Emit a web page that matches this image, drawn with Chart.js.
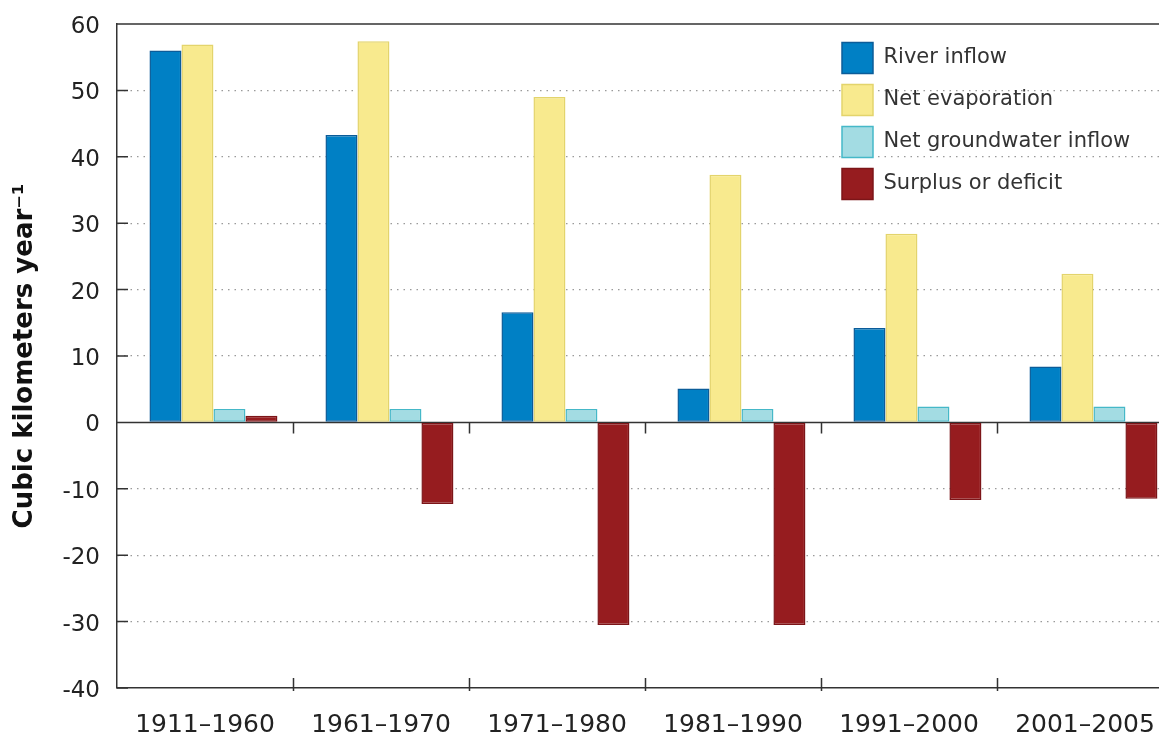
<!DOCTYPE html>
<html>
<head>
<meta charset="utf-8">
<script src="https://cdn.jsdelivr.net/npm/chart.js@4/dist/chart.umd.min.js"></script>
<style>
  html, body { margin: 0; padding: 0; background: #fff; overflow: hidden; }
  #wrap { width: 1180px; height: 736px; position: relative; }
</style>
</head>
<body>
<div id="wrap"><canvas id="myChart"></canvas></div>
<script>
const periods = ["1911–1960", "1961–1970", "1971–1980", "1981–1990", "1991–2000", "2001–2005"];
const riverInflow = [56.0, 43.3, 16.6, 5.1, 14.2, 8.4];
const netEvaporation = [56.9, 57.4, 49.0, 37.3, 28.4, 22.4];
const groundwaterInflow = [2.0, 2.0, 2.0, 2.0, 2.4, 2.4];
const surplusDeficit = [1.0, -12.3, -30.5, -30.5, -11.7, -11.5];
const yTicks = [60, 50, 40, 30, 20, 10, 0, -10, -20, -30, -40];

const Labels = ["River inflow", "Net evaporation", "Net groundwater inflow", "Surplus or deficit"];
const series = [riverInflow, netEvaporation, groundwaterInflow, surplusDeficit];
const fills = ["#0080c5", "#f8ea8e", "#a3dce3", "#961c1f"];
const borders = ["#0b5c99", "#e3d46c", "#45b8c8", "#7c1518"];

// bars sit a little right of the category centre in the original
const shift = 0.048;

Chart.defaults.font.family = "'DejaVu Sans', sans-serif";
Chart.defaults.color = "#222";

const frame = {
  id: "frame",
  afterLayout(chart) {
    const a = chart.chartArea;
    const lg = chart.legend;
    const w = lg.width, h = lg.height;
    lg.left = a.right - 342;
    lg.top = a.top + 7.5;
    lg.right = lg.left + w;
    lg.bottom = lg.top + h;
  },
  beforeDatasetsDraw(chart) {
    const { ctx, chartArea: a, scales } = chart;
    const x = scales.x, y = scales.y;
    const y0 = y.getPixelForValue(0);
    ctx.save();
    ctx.strokeStyle = "#333";
    ctx.lineWidth = 1.5;
    ctx.beginPath();
    ctx.moveTo(a.left, a.top);
    ctx.lineTo(a.right, a.top);
    ctx.moveTo(a.left, y0);
    ctx.lineTo(a.right, y0);
    yTicks.forEach((v) => {
      const py = y.getPixelForValue(v);
      ctx.moveTo(a.left, py);
      ctx.lineTo(a.left + 11, py);
    });
    for (let i = 1; i < periods.length; i++) {
      const px = Math.round((x.getPixelForTick(i - 1) + x.getPixelForTick(i)) / 2) + 0.5;
      ctx.moveTo(px, y0);
      ctx.lineTo(px, y0 + 11);
      ctx.moveTo(px, a.bottom + 3);
      ctx.lineTo(px, a.bottom - 10);
    }
    ctx.stroke();
    ctx.restore();
  },
};

new Chart(document.getElementById("myChart"), {
  type: "bar",
  data: {
    labels: periods,
    datasets: Labels.map((l, i) => ({
      label: l,
      data: series[i].map((v, j) => ({ x: j, y: v })),
      xAxisID: "xb",
      backgroundColor: fills[i],
      borderColor: borders[i],
      borderWidth: 1.5,
      borderSkipped: false,
      categoryPercentage: 0.727,
      barPercentage: 1,
    })),
  },
  options: {
    responsive: true,
    maintainAspectRatio: false,
    animation: false,
    layout: { padding: { top: 24, right: 7, left: 0, bottom: 0 } },
    plugins: {
      legend: {
        position: "chartArea",
        align: "start",
        labels: {
          boxWidth: 31,
          boxHeight: 31,
          padding: 11,
          color: "#333",
          font: { size: 21 },
        },
      },
      tooltip: { enabled: false },
    },
    scales: {
      x: {
        type: "category",
        offset: true,
        grid: { display: false, drawTicks: false },
        border: { display: true, color: "#333", width: 1.5 },
        ticks: { padding: 22, color: "#222", font: { size: 25 }, maxRotation: 0 },
        afterFit: (s) => { s.height = 48; },
      },
      xb: {
        type: "linear",
        display: false,
        offset: false,
        grid: { offset: false },
        min: -0.5 - shift,
        max: 5.5 - shift,
        ticks: { stepSize: 1, includeBounds: false },
      },
      y: {
        min: -40,
        max: 60,
        ticks: { stepSize: 10, padding: 17, labelOffset: 3, color: "#222", font: { size: 23 } },
        grid: {
          drawTicks: false,
          lineWidth: 1.3,
          color: (c) => ([60, 0, -40].includes(c.tick.value) ? "rgba(0,0,0,0)" : "#9a9a9a"),
        },
        border: { display: true, color: "#333", width: 1.5, dash: [1.5, 5] },
        title: {
          display: true,
          text: "Cubic kilometers year⁻¹",
          color: "#111",
          font: { size: 26, weight: "bold" },
          padding: { top: 10, bottom: 0 },
        },
        afterFit: (s) => {
          s.width = 117;
          s.paddingTop = 0;
          s.paddingBottom = 0;
        },
      },
    },
  },
  plugins: [frame],
});
</script>
</body>
</html>
